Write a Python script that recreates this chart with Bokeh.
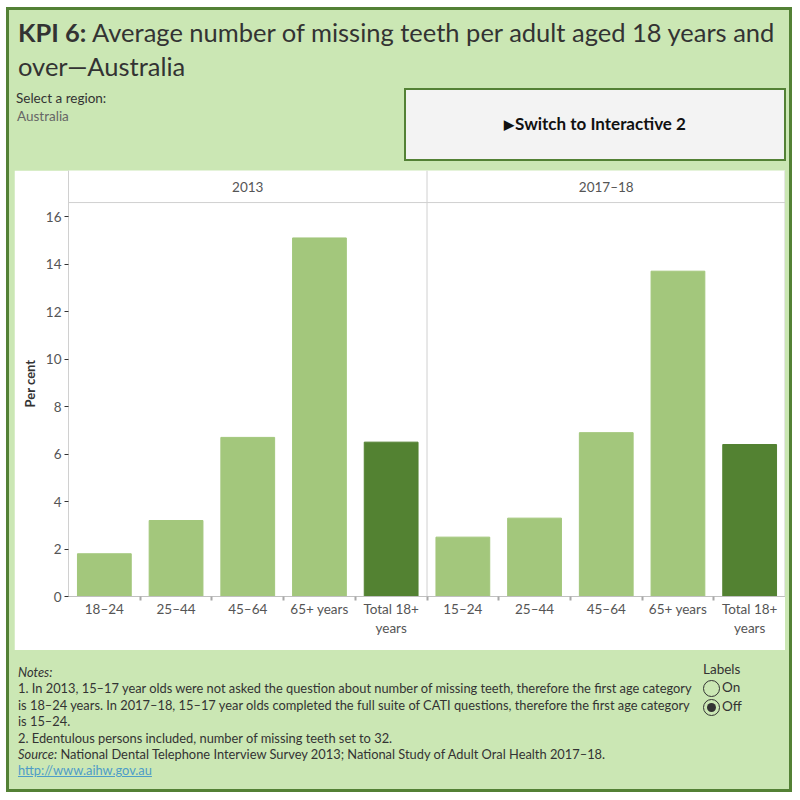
from bokeh.plotting import figure
from bokeh.models import (ColumnDataSource, FactorRange, Range1d, LinearAxis, CategoricalAxis,
                          FixedTicker, Span, Div, Row, Column, CustomJSTickFormatter)
from bokeh.core.properties import value
from bokeh.embed import file_html
from bokeh.resources import INLINE

# ---------------- data ----------------
years = ["2013", "2017–18"]
groups_2013 = ["18–24", "25–44", "45–64", "65+ years", "Total 18+\nyears"]
groups_2017 = ["15–24", "25–44", "45–64", "65+ years", "Total 18+\nyears"]
values_2013 = [1.8, 3.2, 6.7, 15.1, 6.5]
values_2017 = [2.5, 3.3, 6.9, 13.7, 6.4]
y_ticks = [0, 2, 4, 6, 8, 10, 12, 14, 16]

title_bold = "KPI 6:"
title_line1 = "Average number of missing teeth per adult aged 18 years and"
title_line2 = "over—Australia"
notes_lines = [
    "1. In 2013, 15–17 year olds were not asked the question about number of missing teeth, therefore the first age category",
    "is 18–24 years. In 2017–18, 15–17 year olds completed the full suite of CATI questions, therefore the first age category",
    "is 15–24.",
    "2. Edentulous persons included, number of missing teeth set to 32.",
]
source_text = "National Dental Telephone Interview Survey 2013; National Study of Adult Oral Health 2017–18."
link_text = "http://www.aihw.gov.au"

# ---------------- styles ----------------
FONT = "Lato"
GREEN_BG = "#CBE7B4"
GREEN_BORDER = "#538135"
LIGHT = "#A3C77C"
DARK = "#538232"
PANEL_LINE = "#D0D0D0"

keys = [f"{years[0]}|{g}" for g in groups_2013] + [f"{years[1]}|{g}" for g in groups_2017]
labels = groups_2013 + groups_2017
vals = values_2013 + values_2017
colors = [DARK if g.startswith("Total") else LIGHT for g in labels]
src = ColumnDataSource(dict(x=keys, top=vals, color=colors))

# ---------------- chart ----------------
p = figure(width=771, height=480,
           x_range=FactorRange(*keys, factor_padding=0),
           y_range=Range1d(0, 17.94),
           output_backend="svg", toolbar_location=None,
           x_axis_location=None, y_axis_location=None,
           min_border_left=54, min_border_right=0, min_border_top=0, min_border_bottom=54,
           margin=(9, 0, 0, 5))
p.border_fill_color = "white"
p.background_fill_color = "white"
p.outline_line_color = None
for g in p.grid:
    g.visible = False

# band edges: one factor per category boundary, used only for Tableau-style boundary ticks
edge_names = [f"edge{i}" for i in range(len(keys) + 1)]
p.extra_x_ranges = {"edges": FactorRange(*edge_names, factor_padding=0,
                                         range_padding=-0.5, range_padding_units="absolute")}

p.vbar(x="x", top="top", width=0.75, color="color", source=src)

# facet header labels (one per year, centred over its panel)
hdr = ColumnDataSource(dict(x=[keys[2], keys[7]], y=[17.26, 17.26], text=years))
p.text(x="x", y="y", text="text", source=hdr, text_font=value(FONT), text_font_size="13.5px",
       text_color="#555555", text_align="center", text_baseline="middle")

p.add_layout(Span(location=16.59, dimension="width", line_color=PANEL_LINE, line_width=1))
p.add_layout(Span(location=len(groups_2013), dimension="height", line_color=PANEL_LINE, line_width=1))
p.add_layout(Span(location=len(keys), dimension="height", line_color=PANEL_LINE, line_width=2))

yaxis = LinearAxis(ticker=FixedTicker(ticks=y_ticks), axis_label="Per cent",
                   axis_label_text_font=FONT, axis_label_text_font_style="bold",
                   axis_label_text_font_size="13px", axis_label_text_color="#333333",
                   axis_label_standoff=5,
                   axis_line_color=PANEL_LINE, major_tick_line_color="#333333",
                   major_tick_out=4, major_tick_in=0, minor_tick_line_color=None,
                   major_label_text_font=FONT, major_label_text_font_size="13.5px",
                   major_label_text_color="#555555", major_label_standoff=3)
p.add_layout(yaxis, "left")

edge_axis = CategoricalAxis(x_range_name="edges", axis_line_color="#C0C0C0",
                            major_tick_line_color="#A8A8A8", major_tick_line_width=2,
                            major_tick_out=4, major_tick_in=0,
                            major_label_text_color=None, major_label_text_font_size="1px",
                            major_label_standoff=0)
p.add_layout(edge_axis, "below")

cat_axis = CategoricalAxis(axis_line_color=None, major_tick_line_color=None,
                           major_tick_out=0, major_tick_in=0,
                           formatter=CustomJSTickFormatter(code="return tick.split('|')[1];"),
                           major_label_text_font=FONT, major_label_text_font_size="13.5px",
                           major_label_text_color="#555555", major_label_standoff=0,
                           major_label_text_line_height=1.2)
p.add_layout(cat_axis, "below")

# ---------------- surrounding dashboard ----------------
TXT = f"font-family:{FONT};color:#333333;white-space:nowrap;"

title_div = Div(
    text=(f'<div style="{TXT}font-size:25.5px;line-height:34px;">'
          f'<b>{title_bold}</b> {title_line1}<br>{title_line2}</div>'),
    width=768, height=68, margin=(5, 0, 0, 9))

select_div = Div(
    text=(f'<div style="{TXT}font-size:13.5px;line-height:18px;">Select a region:<br>'
          f'<span style="color:#666666;padding-left:1px">Australia</span></div>'),
    width=388, height=72, margin=(6, 0, 0, 7))

button_div = Div(
    text=(f'<div style="box-sizing:border-box;width:382px;height:73px;background:#F3F3F3;'
          f'border:2px solid {GREEN_BORDER};display:flex;align-items:center;justify-content:center;'
          f'font-family:{FONT};font-weight:bold;font-size:17px;color:#111111;">'
          f'<span style="font-size:13px;margin-right:1px">&#9654;</span>Switch to Interactive 2</div>'),
    width=382, height=73, margin=(5, 0, 0, 0))

notes_html = [f'<i>Notes:</i>'] + notes_lines + [
    f'<i>Source:</i> {source_text}',
    f'<span style="color:#4E9CC8;text-decoration:underline;">{link_text}</span>']
notes_div = Div(
    text=f'<div style="{TXT}font-size:12.85px;line-height:16.4px;">' + "<br>".join(notes_html) + '</div>',
    width=685, height=120, margin=(14, 0, 0, 9))

circ = ("display:inline-block;box-sizing:border-box;width:17px;height:17px;border:1.4px solid #333333;"
        "border-radius:50%;vertical-align:middle;margin-right:2px;position:relative;")
dot = ("position:absolute;left:2.6px;top:2.6px;width:9px;height:9px;border-radius:50%;"
       "background:#333333;")
radio_div = Div(
    text=(f'<div style="{TXT}font-size:13.5px;line-height:18px;">Labels<br>'
          f'<span style="{circ}"></span>On<br>'
          f'<span style="{circ}"><span style="{dot}"></span></span>Off</div>'),
    width=80, height=60, margin=(10, 0, 0, 0))

top_row = Row(children=[select_div, button_div], spacing=0, margin=0)
bottom_row = Row(children=[notes_div, radio_div], spacing=0, margin=0)

inner = Column(children=[title_div, top_row, p, bottom_row], spacing=0,
               width=780, height=779, margin=(3, 3, 3, 3),
               styles={"background-color": GREEN_BG})
root = Column(children=[inner], spacing=0, width=786, height=785, margin=(7, 0, 0, 6),
              styles={"background-color": GREEN_BORDER})

open("out.html", "w").write(file_html(root, INLINE))
